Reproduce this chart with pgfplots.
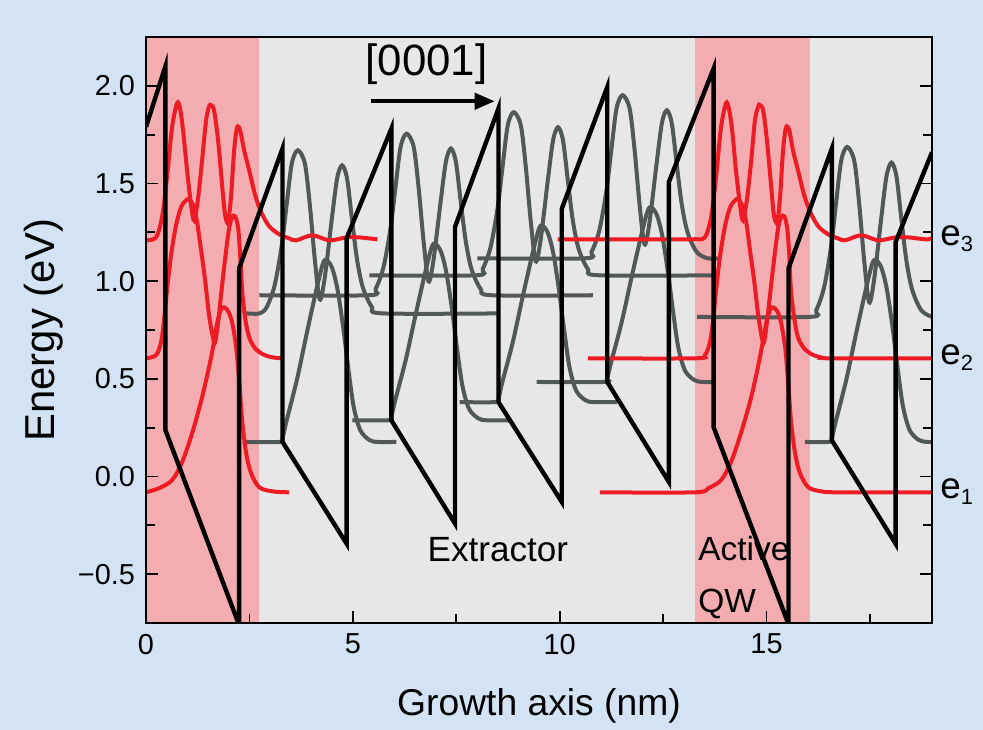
\documentclass[border=0pt]{standalone}
\usepackage{fontspec}
\setmainfont{Liberation Sans}
\usepackage{pgfplots}
\pgfplotsset{compat=1.18}
\usetikzlibrary{arrows.meta}
\definecolor{bgblue}{RGB}{212,227,243}
\definecolor{plotgray}{RGB}{231,231,233}
\definecolor{qwpink}{RGB}{243,172,175}
\definecolor{wfred}{RGB}{237,28,36}
\definecolor{wfgray}{RGB}{82,88,88}
\begin{document}
\begin{tikzpicture}
\fill[bgblue] (-73bp,-53.5bp) rectangle (418.5bp,311.5bp);
\begin{axis}[
  at={(0,0)}, anchor=south west,
  scale only axis, width=393bp, height=293bp,
  xmin=0, xmax=19, ymin=-0.75, ymax=2.25,
  axis background/.style={fill=plotgray},
  axis on top,
  axis line style={line width=1bp},
  xtick={0,5,10,15}, xticklabels={0,5,10,15},
  minor xtick={2.5,7.5,12.5,17.5},
  ytick={-0.5,0,0.5,1,1.5,2}, yticklabels={−0.5,0.0,0.5,1.0,1.5,2.0},
  minor ytick={-0.25,0.25,0.75,1.25,1.75},
  xtick pos=bottom, ytick pos=both, tick align=inside,
  major tick length=6bp, minor tick length=4.5bp,
  tick style={line width=0.9bp, black},
  ticklabel style={font=\fontsize{14.5}{16}\selectfont},
  xticklabel style={yshift=-2bp},
  yticklabel style={xshift=-2bp},
  xlabel={Growth axis (nm)}, ylabel={Energy (eV)},
  xlabel style={font=\fontsize{18.7}{21}\selectfont, at={(axis description cs:0.5,-0.157)}, anchor=base},
  ylabel style={font=\fontsize{21}{23}\selectfont, at={(axis description cs:-0.117,0.5)}, anchor=base},
  clip mode=individual,
]
\fill[qwpink] (axis cs:0,-0.75) rectangle (axis cs:2.74,2.25);
\fill[qwpink] (axis cs:13.27,-0.75) rectangle (axis cs:16.05,2.25);

% ---- extractor states (gray) ----
\pgfplotsset{wfg/.style={wfgray, line width=2bp, smooth, tension=0.5}}
\addplot[wfg] coordinates {(2.42,0.177) (3.23,0.177) (3.30,0.197) (3.40,0.287) (3.65,0.497) (3.89,0.737) (4.13,0.967) (4.28,1.092) (4.37,1.107) (4.50,1.067) (4.63,0.957) (4.77,0.757) (4.90,0.537) (5.02,0.357) (5.18,0.237) (5.40,0.187) (5.60,0.177) (6.05,0.177)};
\addplot[wfg] coordinates {(4.99,0.288) (5.86,0.288) (5.93,0.307) (6.03,0.395) (6.28,0.598) (6.52,0.831) (6.76,1.054) (6.91,1.176) (7.00,1.190) (7.13,1.151) (7.26,1.045) (7.40,0.851) (7.53,0.637) (7.65,0.463) (7.81,0.346) (8.03,0.298) (8.23,0.288) (8.79,0.288)};
\addplot[wfg] coordinates {(7.58,0.381) (8.45,0.381) (8.52,0.400) (8.62,0.488) (8.87,0.691) (9.11,0.924) (9.35,1.147) (9.50,1.269) (9.59,1.283) (9.72,1.244) (9.85,1.138) (9.99,0.944) (10.12,0.730) (10.24,0.556) (10.40,0.439) (10.62,0.391) (10.82,0.381) (11.38,0.381)};
\addplot[wfg] coordinates {(9.44,0.484) (11.08,0.484) (11.15,0.503) (11.25,0.590) (11.50,0.791) (11.74,1.022) (11.98,1.242) (12.13,1.362) (12.22,1.377) (12.35,1.338) (12.48,1.233) (12.62,1.041) (12.75,0.830) (12.87,0.657) (13.03,0.542) (13.25,0.494) (13.45,0.484) (13.70,0.484)};
\addplot[wfg] coordinates {(15.93,0.177) (16.51,0.177) (16.58,0.197) (16.68,0.287) (16.93,0.497) (17.17,0.737) (17.41,0.967) (17.56,1.092) (17.65,1.107) (17.78,1.067) (17.91,0.957) (18.05,0.757) (18.18,0.537) (18.30,0.357) (18.46,0.237) (18.68,0.187) (18.88,0.177) (19.0,0.177)};
\addplot[wfg] coordinates {(2.42,0.835) (2.75,0.835) (2.92,0.868) (3.11,0.979) (3.28,1.181) (3.40,1.392) (3.525,1.603) (3.67,1.670) (3.84,1.603) (3.96,1.392) (4.08,1.113) (4.20,0.907) (4.32,1.017) (4.49,1.315) (4.62,1.526) (4.74,1.593) (4.86,1.526) (4.98,1.315) (5.10,1.113) (5.24,0.969) (5.46,0.868) (5.73,0.835) (8.55,0.835)};
\addplot[wfg] coordinates {(2.74,0.928) (5.38,0.928) (5.55,0.960) (5.74,1.071) (5.91,1.270) (6.03,1.479) (6.155,1.688) (6.30,1.755) (6.47,1.688) (6.59,1.479) (6.71,1.204) (6.83,0.999) (6.95,1.109) (7.12,1.403) (7.25,1.612) (7.37,1.679) (7.49,1.612) (7.61,1.403) (7.73,1.204) (7.87,1.061) (8.09,0.960) (8.36,0.928) (10.8,0.928)};
\addplot[wfg] coordinates {(5.40,1.03) (7.97,1.03) (8.14,1.063) (8.33,1.174) (8.50,1.376) (8.62,1.587) (8.745,1.798) (8.89,1.865) (9.06,1.798) (9.18,1.587) (9.30,1.308) (9.42,1.102) (9.54,1.212) (9.71,1.510) (9.84,1.721) (9.96,1.788) (10.08,1.721) (10.20,1.510) (10.32,1.308) (10.46,1.164) (10.68,1.063) (10.95,1.03) (13.68,1.03)};
\addplot[wfg] coordinates {(8.01,1.117) (10.60,1.117) (10.77,1.150) (10.96,1.261) (11.13,1.463) (11.25,1.674) (11.375,1.885) (11.52,1.952) (11.69,1.885) (11.81,1.674) (11.93,1.395) (12.05,1.189) (12.17,1.299) (12.34,1.597) (12.47,1.808) (12.59,1.875) (12.71,1.808) (12.83,1.597) (12.95,1.395) (13.09,1.251) (13.31,1.150) (13.58,1.117) (13.87,1.117)};
\addplot[wfg] coordinates {(13.32,0.817) (16.03,0.817) (16.20,0.851) (16.39,0.967) (16.56,1.177) (16.68,1.397) (16.805,1.617) (16.95,1.687) (17.12,1.617) (17.24,1.397) (17.36,1.107) (17.48,0.892) (17.60,1.007) (17.77,1.317) (17.90,1.537) (18.02,1.607) (18.14,1.537) (18.26,1.317) (18.38,1.107) (18.52,0.957) (18.74,0.851) (19.0,0.817)};

% ---- active QW states (red) ----
\pgfplotsset{wfr/.style={wfred, line width=2bp, smooth, tension=0.5}}
\addplot[wfr] coordinates {(0,1.209) (0.242,1.224) (0.387,1.327) (0.508,1.532) (0.630,1.787) (0.751,1.911) (0.823,1.884) (0.896,1.772) (0.993,1.568) (1.090,1.389) (1.162,1.312) (1.259,1.424) (1.356,1.619) (1.453,1.823) (1.525,1.895) (1.574,1.901) (1.646,1.874) (1.743,1.721) (1.840,1.491) (1.913,1.337) (1.985,1.302) (2.058,1.440) (2.131,1.670) (2.203,1.787) (2.276,1.772) (2.373,1.670) (2.494,1.568) (2.639,1.440) (2.785,1.353) (2.978,1.281) (3.220,1.240) (3.462,1.219) (3.632,1.209) (4.019,1.235) (4.431,1.209) (4.843,1.224) (5.157,1.224) (5.593,1.214)};
\addplot[wfr] coordinates {(0,0.605) (0.242,0.621) (0.363,0.687) (0.436,0.800) (0.508,0.953) (0.605,1.133) (0.726,1.286) (0.847,1.378) (0.969,1.414) (1.041,1.419) (1.138,1.389) (1.235,1.302) (1.332,1.158) (1.429,1.005) (1.525,0.825) (1.622,0.708) (1.671,0.687) (1.743,0.789) (1.840,0.979) (1.937,1.158) (2.010,1.271) (2.082,1.327) (2.155,1.332) (2.228,1.271) (2.276,1.133) (2.324,0.953) (2.397,0.810) (2.494,0.713) (2.639,0.656) (2.833,0.625) (3.051,0.610) (3.293,0.605)};
\addplot[wfr] coordinates {(0,-0.081) (0.315,-0.060) (0.630,-0.019) (0.872,0.073) (1.114,0.221) (1.356,0.406) (1.574,0.610) (1.719,0.784) (1.816,0.856) (1.889,0.866) (1.985,0.846) (2.082,0.789) (2.179,0.662) (2.252,0.493) (2.324,0.288) (2.421,0.119) (2.542,0.016) (2.736,-0.055) (3.051,-0.076) (3.462,-0.081)};
\addplot[wfr] coordinates {(9.95,1.214) (12.9,1.214) (13.27,1.215) (13.51,1.224) (13.66,1.327) (13.78,1.532) (13.90,1.787) (14.02,1.911) (14.09,1.884) (14.17,1.772) (14.26,1.568) (14.36,1.389) (14.43,1.312) (14.53,1.424) (14.63,1.619) (14.72,1.823) (14.80,1.895) (14.84,1.901) (14.92,1.874) (15.01,1.721) (15.11,1.491) (15.18,1.337) (15.26,1.302) (15.33,1.440) (15.40,1.670) (15.47,1.787) (15.55,1.772) (15.64,1.670) (15.76,1.568) (15.91,1.440) (16.06,1.353) (16.25,1.281) (16.49,1.240) (16.73,1.219) (16.90,1.209) (17.29,1.235) (17.70,1.209) (18.11,1.224) (18.43,1.224) (18.86,1.214) (19.0,1.22)};
\addplot[wfr] coordinates {(10.68,0.605) (13.27,0.605) (13.51,0.621) (13.63,0.687) (13.71,0.800) (13.78,0.953) (13.88,1.133) (14.00,1.286) (14.12,1.378) (14.24,1.414) (14.31,1.419) (14.41,1.389) (14.51,1.302) (14.60,1.158) (14.70,1.005) (14.80,0.825) (14.89,0.708) (14.94,0.687) (15.01,0.789) (15.11,0.979) (15.21,1.158) (15.28,1.271) (15.35,1.327) (15.43,1.332) (15.50,1.271) (15.55,1.133) (15.59,0.953) (15.67,0.810) (15.76,0.713) (15.91,0.656) (16.10,0.625) (16.32,0.610) (16.56,0.605) (19.0,0.605)};
\addplot[wfr] coordinates {(10.97,-0.081) (13.27,-0.081) (13.59,-0.060) (13.90,-0.019) (14.14,0.073) (14.38,0.221) (14.63,0.406) (14.84,0.610) (14.99,0.784) (15.09,0.856) (15.16,0.866) (15.26,0.846) (15.35,0.789) (15.45,0.662) (15.52,0.493) (15.59,0.288) (15.69,0.119) (15.81,0.016) (16.01,-0.055) (16.32,-0.076) (16.73,-0.081) (19.0,-0.081)};

% ---- conduction band (black) ----
\addplot[black, line width=2.2bp] coordinates {(0,1.79) (0.47,2.10) (0.47,0.237) (2.25,-0.76) (2.25,1.065) (3.30,1.679) (3.30,0.177) (4.85,-0.344) (4.85,1.22) (5.93,1.78) (5.93,0.288) (7.47,-0.241) (7.47,1.278) (8.52,1.884) (8.52,0.381) (10.05,-0.13) (10.05,1.37) (11.15,1.994) (11.15,0.484) (12.64,-0.028) (12.64,1.508) (13.72,2.088) (13.72,0.253) (15.53,-0.755) (15.53,1.065) (16.58,1.679) (16.58,0.185) (18.12,-0.344) (18.12,1.2) (19.0,1.66)};

% ---- annotations ----
\node[font=\fontsize{22}{24}\selectfont] at (axis cs:6.78,2.11) {[0001]};
\draw[line width=2bp, -{Triangle[length=10bp,width=8bp]}] (axis cs:5.45,1.921) -- (axis cs:8.43,1.921);
\node[anchor=west, inner sep=0pt, font=\fontsize{17.6}{20}\selectfont] at (axis cs:6.80,-0.373) {Extractor};
\node[anchor=west, inner sep=0pt, font=\fontsize{16.8}{20}\selectfont] at (axis cs:13.34,-0.368) {Active};
\node[anchor=west, inner sep=0pt, font=\fontsize{16.8}{20}\selectfont] at (axis cs:13.34,-0.654) {QW};
\node[anchor=base west, inner sep=0pt, xshift=4bp, yshift=-3bp, font=\fontsize{18.5}{20}\selectfont] at (axis cs:19,1.214) {e\raisebox{-3bp}{\fontsize{11}{11}\selectfont 3}};
\node[anchor=base west, inner sep=0pt, xshift=4bp, yshift=-3bp, font=\fontsize{18.5}{20}\selectfont] at (axis cs:19,0.605) {e\raisebox{-3bp}{\fontsize{11}{11}\selectfont 2}};
\node[anchor=base west, inner sep=0pt, xshift=4bp, yshift=-3bp, font=\fontsize{18.5}{20}\selectfont] at (axis cs:19,-0.081) {e\raisebox{-3bp}{\fontsize{11}{11}\selectfont 1}};
\end{axis}
\end{tikzpicture}
\end{document}
